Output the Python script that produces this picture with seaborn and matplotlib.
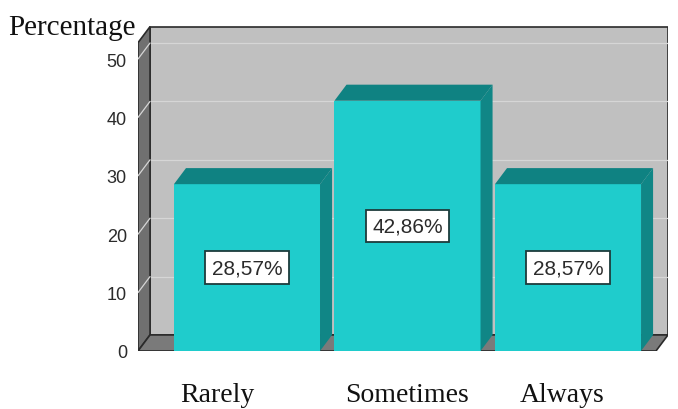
import matplotlib
matplotlib.use("Agg")
import matplotlib.pyplot as plt
from matplotlib.patches import Polygon, Rectangle
from matplotlib.transforms import ScaledTranslation
import seaborn as sns

# data
categories = ["Rarely", "Sometimes", "Always"]
percentages = [28.57, 42.86, 28.57]
bar_labels = ["28,57%", "42,86%", "28,57%"]
y_ticks = [0, 10, 20, 30, 40, 50]

# colours
FRONT = "#1fcccc"
TOP = "#0f8282"
SIDE = "#108686"
WALL = "#c0c0c0"
LEFT_WALL = "#707070"
FLOOR = "#7a7a7a"
GRID = "#d6d6d6"

sns.set_theme(style="white")
plt.rcParams["font.family"] = ["Liberation Sans", "DejaVu Sans"]

fig = plt.figure(figsize=(6.78, 4.10), dpi=100)
ax = fig.add_axes([138 / 678, 58 / 410, 530 / 678, 327 / 410])

x0, xR = -0.679, 2.623   # x limits
DX, DY = 0.075, 2.75     # depth offset of the fake 3d
H = 52.8                 # wall height on the front plane

# back wall, left wall, floor
ax.add_patch(Rectangle((x0 + DX, DY), xR - x0 - DX, H, fc=WALL, ec="#2a2a2a", lw=1.2, zorder=0))
ax.add_patch(Polygon([(x0, 0), (x0, H), (x0 + DX, H + DY), (x0 + DX, DY)],
                     closed=True, fc=LEFT_WALL, ec="#2a2a2a", lw=1.2, zorder=0.6))
ax.add_patch(Polygon([(x0, 0), (x0 + DX, DY), (xR, DY), (xR - DX, 0)],
                     closed=True, fc=FLOOR, ec="#2a2a2a", lw=1.2, zorder=0.6))

# gridlines on back wall and left wall
for v in y_ticks[1:]:
    ax.plot([x0 + DX, xR], [v + DY, v + DY], color=GRID, lw=0.9, zorder=0.5)
    ax.plot([x0, x0 + DX], [v, v + DY], color=GRID, lw=0.9, zorder=0.7)

# front faces of the bars
sns.barplot(x=categories, y=percentages, color=FRONT, saturation=1, width=0.91,
            ax=ax, zorder=3, linewidth=0)

# top and side faces, value boxes
bars = [p for p in ax.patches if p.get_facecolor()[:3] == matplotlib.colors.to_rgb(FRONT)]
for p, lab in zip(bars, bar_labels):
    x, w, h = p.get_x(), p.get_width(), p.get_height()
    ax.add_patch(Polygon([(x, h), (x + DX, h + DY), (x + w + DX, h + DY), (x + w, h)],
                         closed=True, fc=TOP, ec="none", zorder=3))
    ax.add_patch(Polygon([(x + w, 0), (x + w, h), (x + w + DX, h + DY), (x + w + DX, DY)],
                         closed=True, fc=SIDE, ec="none", zorder=3))
    ax.text(x + w / 2, h / 2, lab, ha="center", va="center", fontsize=15, color="#2b2b2b",
            zorder=5, bbox=dict(boxstyle="square,pad=0.32", fc="white", ec="#1d3b3b", lw=1.3))

ax.set_xlim(x0, xR)
ax.set_ylim(0, 56)
ax.set_yticks(y_ticks)
ax.set_yticklabels([str(v) for v in y_ticks], fontsize=13, color="#2b2b2b")
ax.tick_params(axis="y", length=0, pad=8)
ax.tick_params(axis="x", length=0, pad=22)
ax.set_xticks(range(len(categories)))
ax.set_xticklabels(categories, fontsize=20, family=["Liberation Serif", "DejaVu Serif"], color="#111111")
shifts = [-0.30, 0.0, -0.06]
for lbl, s in zip(ax.get_xticklabels(), shifts):
    lbl.set_transform(lbl.get_transform() + ScaledTranslation(s, 0, fig.dpi_scale_trans))
ax.set_xlabel("")
ax.set_ylabel("")
for sp in ax.spines.values():
    sp.set_visible(False)
ax.set_facecolor("white")

fig.text(8 / 678, 1 - 35 / 410, "Percentage", fontsize=21, va="baseline", ha="left",
         family=["Liberation Serif", "DejaVu Serif"], color="#111111")

fig.savefig("out.png", dpi=100)
